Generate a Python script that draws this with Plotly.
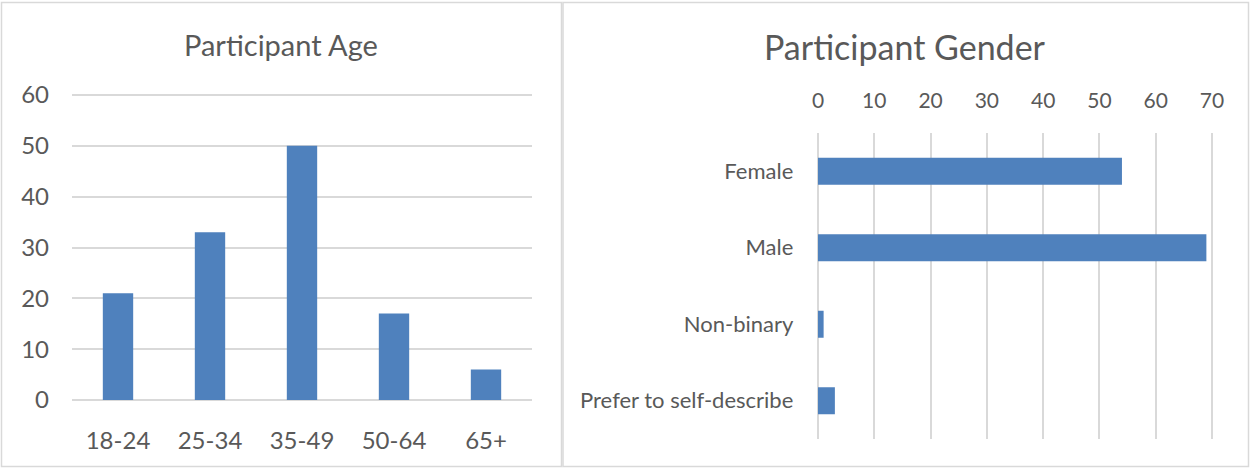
import plotly.graph_objects as go

age_groups = ["18-24", "25-34", "35-49", "50-64", "65+"]
age_counts = [21, 33, 50, 17, 6]

genders = ["Female", "Male", "Non-binary", "Prefer to self-describe"]
gender_counts = [54, 69, 1, 3]

W, H = 1250, 468
BAR = "#4F81BD"
GRID = "#D9D9D9"
TEXT = "#595959"
FONT = "Lato"


def px_x(v):
    return v / W


def px_y(v):
    return 1 - v / H


fig = go.Figure()

fig.add_trace(go.Bar(
    x=age_groups, y=age_counts,
    marker=dict(color=BAR, line=dict(width=0)),
    xaxis="x", yaxis="y", showlegend=False,
))

fig.add_trace(go.Bar(
    x=gender_counts, y=genders, orientation="h",
    marker=dict(color=BAR, line=dict(width=0)),
    xaxis="x2", yaxis="y2", showlegend=False, width=0.355,
))

# ranges padded a little so plotly keeps the edge gridlines (0, 60, 70)
fig.update_layout(
    width=W, height=H,
    margin=dict(l=0, r=0, t=0, b=0),
    paper_bgcolor="white", plot_bgcolor="white",
    font=dict(family=FONT, color=TEXT, size=22),
    bargap=0.67,
    xaxis=dict(
        domain=[px_x(72), px_x(532)],
        anchor="y", showgrid=False, showline=False, zeroline=False,
        ticks="", ticklabelstandoff=22, automargin=False,
        tickfont=dict(size=24, color=TEXT),
    ),
    yaxis=dict(
        domain=[px_y(401.5), px_y(93.5)],
        anchor="x", range=[-0.3, 60.3], dtick=10,
        showgrid=True, gridcolor=GRID, gridwidth=1.5,
        zeroline=False, showline=False,
        ticks="", ticklabelstandoff=22, automargin=False,
        tickfont=dict(size=24, color=TEXT),
    ),
    xaxis2=dict(
        domain=[px_x(816.3), px_x(1213.7)],
        anchor="y2", side="top", range=[-0.3, 70.3], dtick=10,
        showgrid=True, gridcolor=GRID, gridwidth=1.5,
        zeroline=False, showline=False,
        ticks="", ticklabelstandoff=20, automargin=False,
        tickfont=dict(size=21, color=TEXT),
    ),
    yaxis2=dict(
        domain=[px_y(439), px_y(133)],
        anchor="x2", autorange="reversed",
        showgrid=False, zeroline=False, showline=False,
        ticks="", ticklabelstandoff=22, automargin=False,
        tickfont=dict(size=22, color=TEXT),
    ),
)

# panel titles
fig.add_annotation(
    text="Participant Age", x=px_x(281), y=px_y(45),
    xref="paper", yref="paper", showarrow=False,
    xanchor="center", yanchor="middle",
    font=dict(size=29, color=TEXT, family=FONT),
)
fig.add_annotation(
    text="Participant Gender", x=px_x(905), y=px_y(47),
    xref="paper", yref="paper", showarrow=False,
    xanchor="center", yanchor="middle",
    font=dict(size=34, color=TEXT, family=FONT),
)

# panel borders
fig.add_shape(type="rect", xref="paper", yref="paper",
              x0=px_x(1.5), x1=px_x(561.5), y0=px_y(466.5), y1=px_y(2.5),
              line=dict(color=GRID, width=1.5))
fig.add_shape(type="rect", xref="paper", yref="paper",
              x0=px_x(563), x1=px_x(1248.5), y0=px_y(466.5), y1=px_y(2.5),
              line=dict(color=GRID, width=1.5))

# drop the default body margin so the 1250x468 figure sits at the page origin
fig.write_html(
    "out.html",
    config={"displayModeBar": False},
    post_script="document.body.style.margin='0';",
)
